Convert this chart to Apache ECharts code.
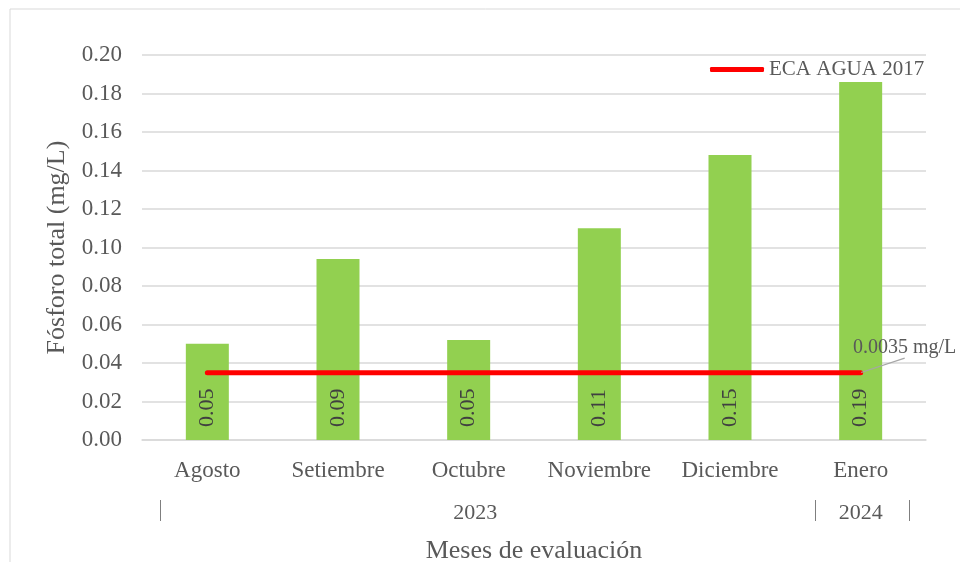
<!DOCTYPE html>
<html>
<head>
<meta charset="utf-8">
<script src="https://cdn.jsdelivr.net/npm/echarts@6/dist/echarts.min.js"></script>
</head>
<body style="margin:0;background:#fff">
<div id="myChart" style="width:960px;height:562px"></div>
<script>
// datos
var meses = ['Agosto', 'Setiembre', 'Octubre', 'Noviembre', 'Diciembre', 'Enero'];
var fosforo = [0.050, 0.094, 0.052, 0.110, 0.148, 0.186];
var eca = [0.035, 0.035, 0.035, 0.035, 0.035, 0.035];
var ecaNota = '0.0035 mg/L';
var anios = ['2023', '2024'];
var aniosPos = [2.55, 5.5];
var aniosSep = [0.14, 5.15, 5.87];

var fontFam = '"Liberation Serif", "Times New Roman", serif';
var gris = '#595959';

var chartDom = document.getElementById('myChart');
var myChart = echarts.init(chartDom);
var option;

var ecaData = eca.map(function (v, i) {
    if (i === eca.length - 1) {
        return {
            value: v,
            label: {
                show: true,
                position: 'top',
                formatter: ecaNota,
                color: gris,
                fontFamily: fontFam,
                fontSize: 20,
                // caja invisible ancha para que la guia salga del borde inferior
                backgroundColor: 'rgba(255,255,255,0)',
                padding: [0, 60, 0, 60]
            },
            labelLine: { show: true, lineStyle: { color: '#a6a6a6', width: 1.2 } }
        };
    }
    return v;
});

option = {
    animation: false,
    textStyle: { fontFamily: fontFam },
    graphic: [
        {
            type: 'rect',
            shape: { x: 10, y: 9, width: 980, height: 600 },
            style: { fill: 'none', stroke: '#d9d9d9', lineWidth: 1 },
            silent: true
        }
    ],
    legend: {
        data: [{ name: 'ECA AGUA 2017', icon: 'roundRect' }],
        left: 705,
        top: 54,
        itemWidth: 54,
        itemHeight: 5,
        itemGap: 6,
        textStyle: { color: gris, fontSize: 21, fontFamily: fontFam }
    },
    grid: { left: 142, right: 34, top: 55, bottom: 122, outerBoundsMode: 'none' },
    xAxis: [
        {
            type: 'category',
            data: meses,
            axisTick: { show: false },
            axisLine: { lineStyle: { color: '#d9d9d9', width: 1.5 } },
            axisLabel: { interval: 0, color: gris, fontSize: 23, margin: 19, fontFamily: fontFam },
            name: 'Meses de evaluación',
            nameLocation: 'middle',
            nameGap: 98,
            nameTextStyle: { color: gris, fontSize: 26, fontFamily: fontFam }
        },
        {
            type: 'value',
            position: 'bottom',
            offset: 60,
            min: 0,
            max: 6,
            axisLine: { show: false },
            splitLine: { show: false },
            axisTick: {
                show: true,
                customValues: aniosSep,
                length: 21,
                lineStyle: { color: '#7f7f7f' }
            },
            axisLabel: {
                customValues: aniosPos,
                margin: 2,
                color: gris,
                fontSize: 22,
                fontFamily: fontFam,
                formatter: function (v) {
                    var i = aniosPos.indexOf(v);
                    return i >= 0 ? anios[i] : '';
                }
            }
        }
    ],
    yAxis: {
        type: 'value',
        min: 0,
        max: 0.2,
        interval: 0.02,
        axisLine: { show: false },
        axisTick: { show: false },
        splitLine: { lineStyle: { color: '#d9d9d9', width: 1.5 } },
        axisLabel: {
            color: gris,
            fontSize: 23,
            margin: 20,
            fontFamily: fontFam,
            formatter: function (v) { return v.toFixed(2); }
        },
        name: 'Fósforo total (mg/L)',
        nameLocation: 'middle',
        nameGap: 72,
        nameTextStyle: { color: gris, fontSize: 26, fontFamily: fontFam }
    },
    series: [
        {
            name: 'Fósforo total',
            type: 'bar',
            xAxisIndex: 0,
            data: fosforo,
            barWidth: 43,
            itemStyle: { color: '#92d050' },
            label: {
                show: true,
                position: 'insideBottom',
                rotate: 90,
                align: 'left',
                verticalAlign: 'middle',
                distance: 13,
                color: '#404040',
                fontSize: 22,
                fontFamily: fontFam,
                formatter: function (p) { return p.value.toFixed(2); }
            }
        },
        {
            name: 'ECA AGUA 2017',
            type: 'line',
            xAxisIndex: 0,
            data: ecaData,
            symbol: 'circle',
            symbolSize: 1,
            itemStyle: { color: '#ff0000' },
            lineStyle: { color: '#ff0000', width: 5, cap: 'round' },
            labelLayout: { dx: 44, dy: -9 },
            z: 5
        }
    ]
};

option && myChart.setOption(option);
</script>
</body>
</html>
